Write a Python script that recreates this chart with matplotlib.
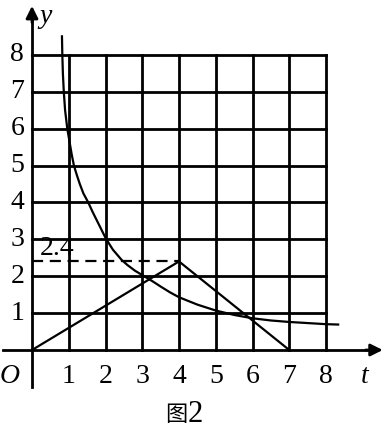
import matplotlib.pyplot as plt

# curve (t, y)
curve_t = [0.815, 0.825, 0.84, 0.865, 0.9, 0.96, 1.02, 1.08, 1.14, 1.22, 1.3, 1.4, 1.53, 1.65, 1.8, 2.01,
           2.2, 2.44, 2.6, 2.8, 3.0, 3.1, 3.3, 3.5, 3.76, 4.0, 4.5, 5.0, 5.5, 6.0, 6.5, 7.0, 7.5, 8.0, 8.33]
curve_y = [8.5, 8.0, 7.5, 7.0, 6.5, 6.0, 5.65, 5.3, 5.0, 4.74, 4.5, 4.24, 4.0, 3.74, 3.44, 3.02,
           2.72, 2.44, 2.3, 2.15, 2.03, 1.97, 1.85, 1.72, 1.56, 1.43, 1.23, 1.07, 0.95, 0.86, 0.8, 0.76, 0.73, 0.70, 0.69]
# piecewise line
line_t = [0, 4, 7]
line_y = [0, 2.4, 0]
peak_t, peak_y = 4, 2.4
ticks = [1, 2, 3, 4, 5, 6, 7, 8]

fig = plt.figure(figsize=(3.88, 4.32), dpi=100)
ax = fig.add_axes([0, 0, 1, 1])
ax.set_xlim(-0.871, 9.687)
ax.set_ylim(-2.222, 9.485)
ax.axis('off')

lw = 2.0
# grid
for v in ticks:
    ax.plot([v, v], [0, 8], color='black', lw=lw)
    ax.plot([0, 8], [v, v], color='black', lw=lw)

# axes with arrows
ax.plot([0, 0], [-1.0, 9.0], color='black', lw=lw)
ax.plot([-0.8, 9.3], [0, 0], color='black', lw=lw)
ax.annotate('', xy=(0, 9.4), xytext=(0, 8.8),
            arrowprops=dict(arrowstyle='-|>', color='black', lw=lw, mutation_scale=18))
ax.annotate('', xy=(9.62, 0), xytext=(9.0, 0),
            arrowprops=dict(arrowstyle='-|>', color='black', lw=lw, mutation_scale=18))

ax.plot(curve_t, curve_y, color='black', lw=1.6, solid_joinstyle='round')
ax.plot(line_t, line_y, color='black', lw=1.6)
ax.plot([0, peak_t], [peak_y, peak_y], color='black', lw=1.6, dashes=(5, 3))

serif = 'Liberation Serif'
fs = 20
for v in ticks:
    ax.text(v, -0.72, str(v), ha='center', va='center', fontsize=fs, family=serif)
    ax.text(-0.4, v, str(v), ha='center', va='center', fontsize=fs, family=serif)
ax.text(-0.6, -0.72, 'O', ha='center', va='center', fontsize=fs, family=serif, style='italic')
ax.text(0.38, 9.05, 'y', ha='center', va='center', fontsize=fs, family=serif, style='italic')
ax.text(9.06, -0.72, 't', ha='center', va='center', fontsize=fs, family=serif, style='italic')
ax.text(0.2, 2.76, '2.4', ha='left', va='center', fontsize=fs, family=serif)
# caption
ax.text(3.92, -1.76, '图', ha='center', va='center', fontsize=16,
        family=['Noto Sans CJK SC', 'DejaVu Sans'])
ax.text(4.44, -1.74, '2', ha='center', va='center', fontsize=22, family=serif)

fig.savefig('out.png', dpi=100)
